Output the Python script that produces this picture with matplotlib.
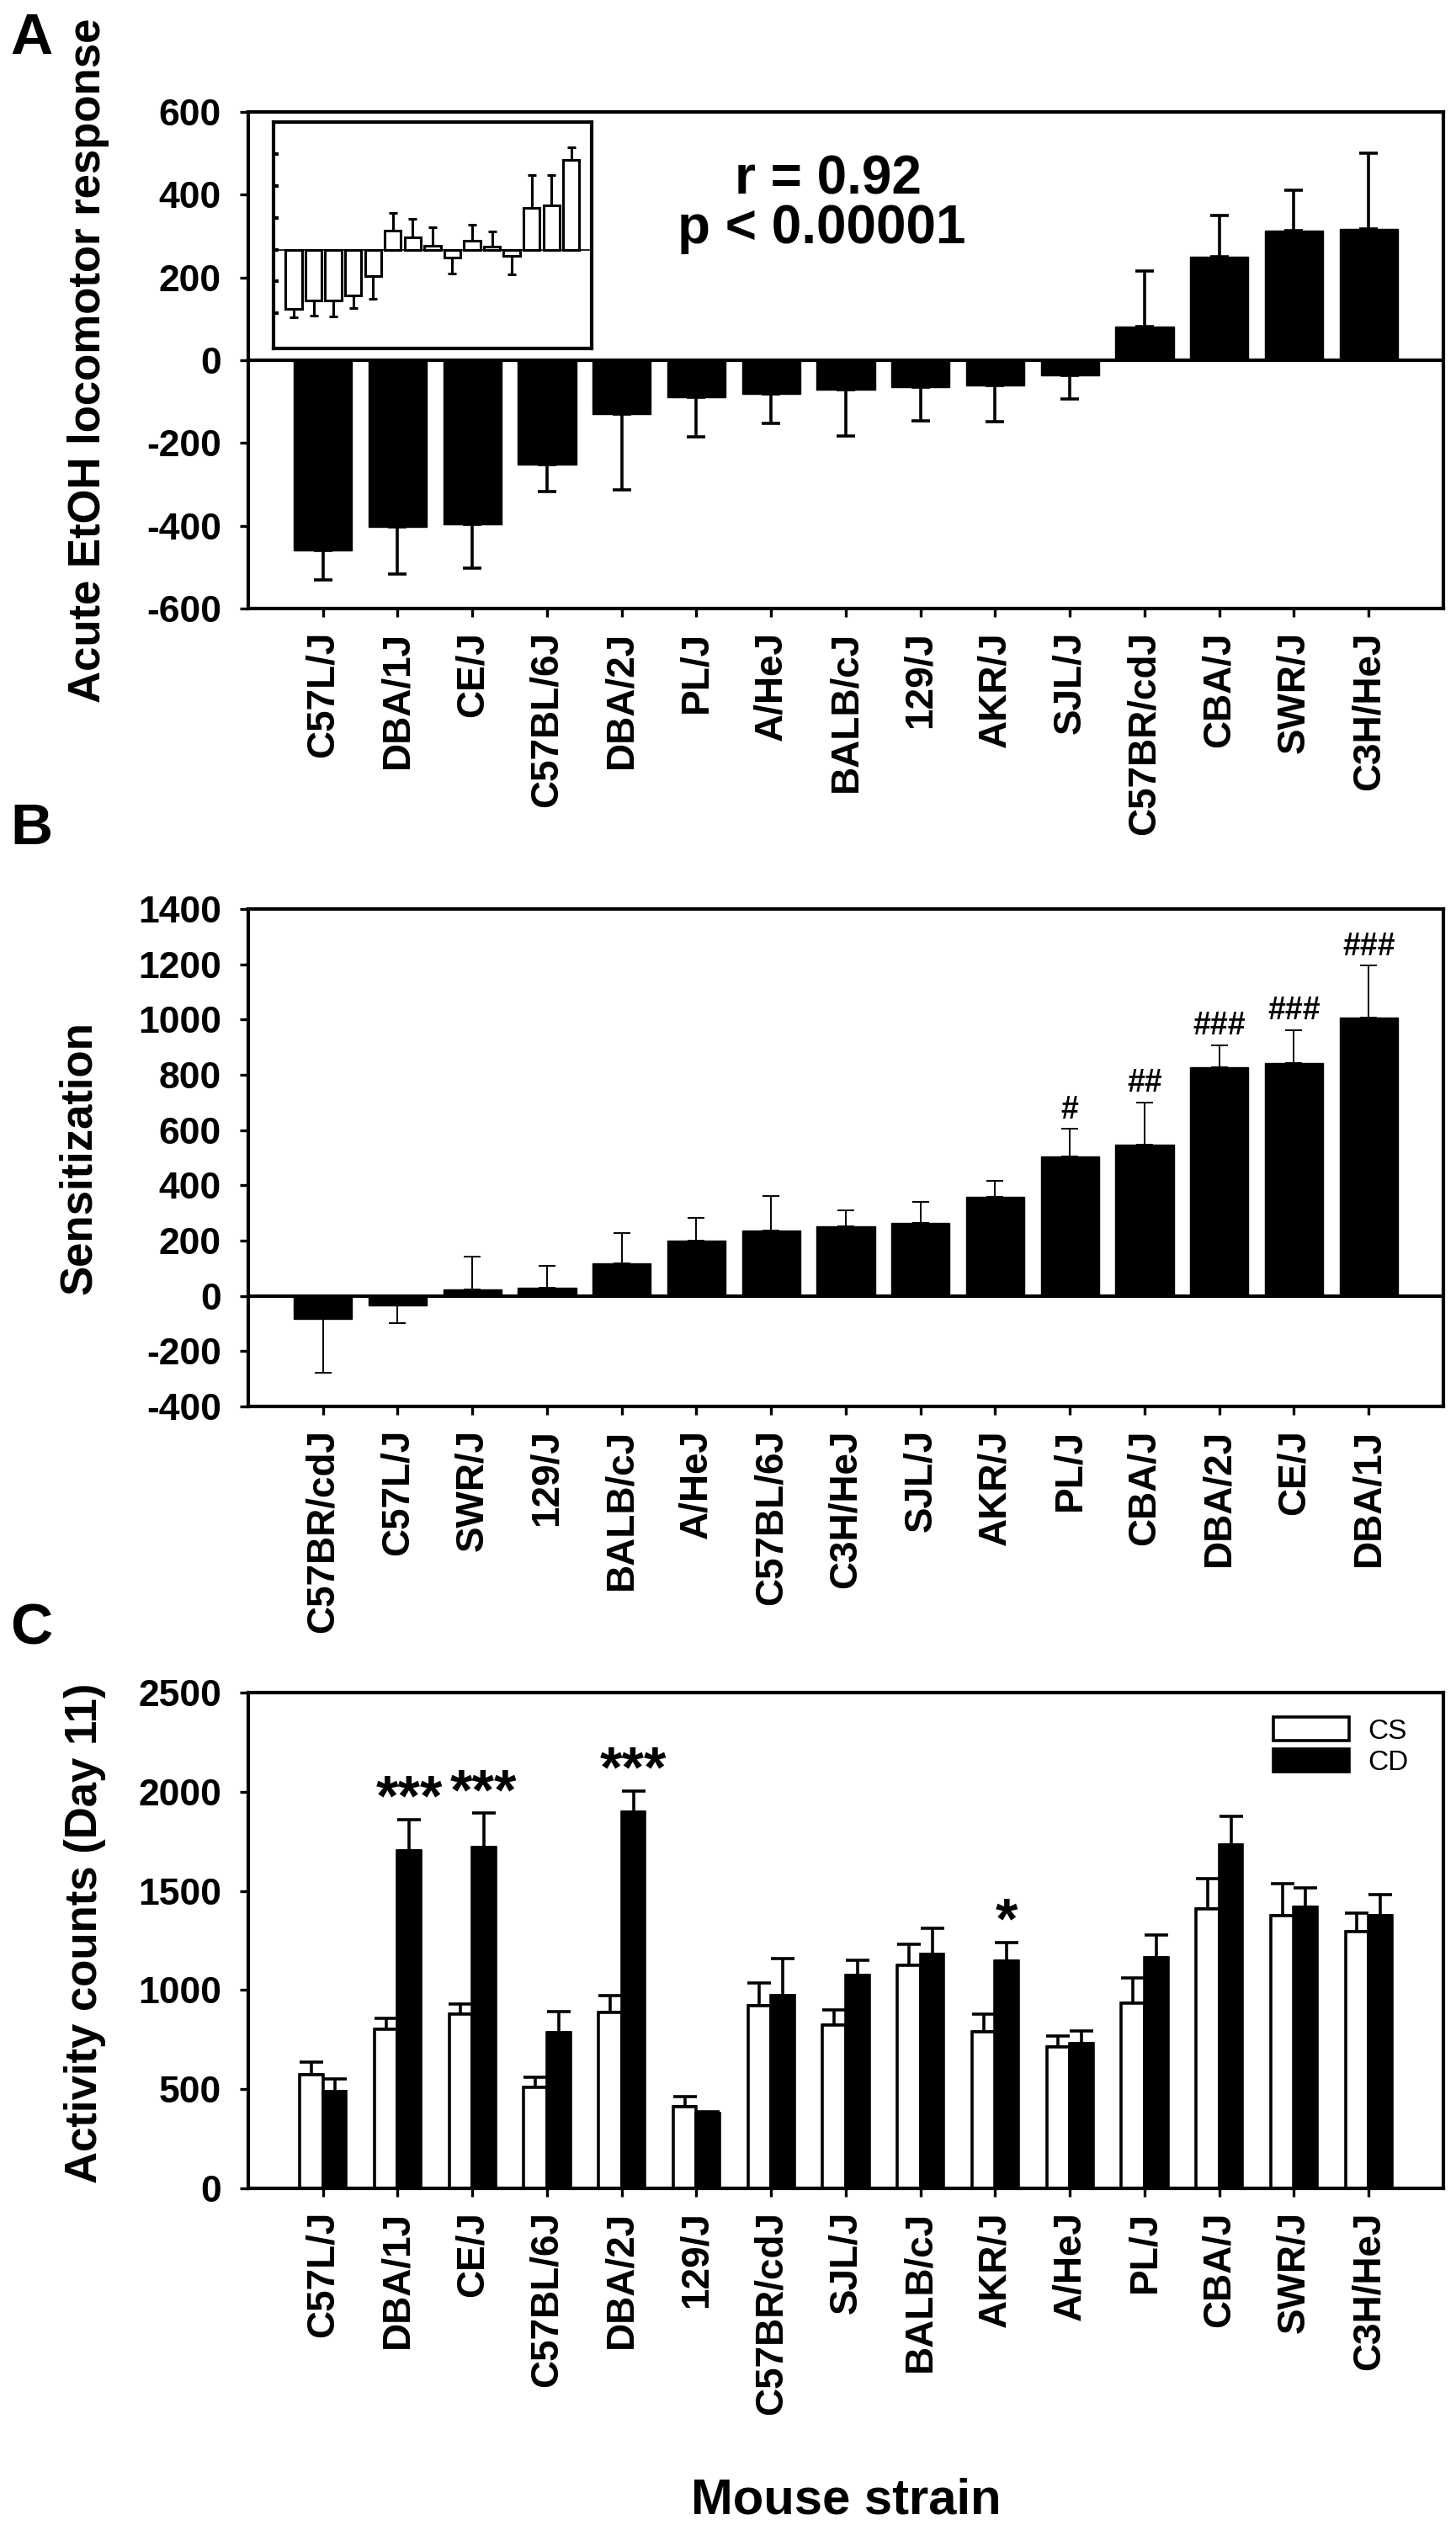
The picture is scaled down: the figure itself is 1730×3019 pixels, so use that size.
import matplotlib
matplotlib.use("Agg")
import matplotlib.pyplot as plt
import numpy as np

plt.rcParams['font.family'] = ['Liberation Sans', 'DejaVu Sans']
plt.rcParams['font.weight'] = 'bold'
plt.rcParams['axes.unicode_minus'] = False

# ---------------- data ----------------
strains_A = ['C57L/J', 'DBA/1J', 'CE/J', 'C57BL/6J', 'DBA/2J', 'PL/J', 'A/HeJ', 'BALB/cJ',
             '129/J', 'AKR/J', 'SJL/J', 'C57BR/cdJ', 'CBA/J', 'SWR/J', 'C3H/HeJ']
acute_mean = [-460, -402, -396, -253, -130, -89, -81, -71, -65, -61, -36, 82, 251, 314, 317]
acute_err = [70, 115, 107, 64, 183, 96, 71, 113, 82, 88, 57, 133, 98, 96, 184]

inset_mean = [-1.85, -1.60, -1.60, -1.45, -0.84, 0.60, 0.38, 0.11, -0.25, 0.28, 0.09, -0.20, 1.31, 1.39, 2.80]
inset_err = [0.28, 0.46, 0.50, 0.39, 0.70, 0.54, 0.58, 0.60, 0.51, 0.49, 0.47, 0.59, 1.03, 0.94, 0.40]
corr_lines = ['r = 0.92', 'p < 0.00001']

strains_B = ['C57BR/cdJ', 'C57L/J', 'SWR/J', '129/J', 'BALB/cJ', 'A/HeJ', 'C57BL/6J', 'C3H/HeJ',
             'SJL/J', 'AKR/J', 'PL/J', 'CBA/J', 'DBA/2J', 'CE/J', 'DBA/1J']
sens_mean = [-82, -33, 23, 29, 118, 200, 237, 251, 264, 358, 505, 548, 828, 844, 1007]
sens_err = [196, 65, 118, 79, 109, 82, 125, 60, 77, 57, 100, 153, 79, 118, 188]
sens_marks = ['', '', '', '', '', '', '', '', '', '', '#', '##', '###', '###', '###']

strains_C = ['C57L/J', 'DBA/1J', 'CE/J', 'C57BL/6J', 'DBA/2J', '129/J', 'C57BR/cdJ', 'SJL/J',
             'BALB/cJ', 'AKR/J', 'A/HeJ', 'PL/J', 'CBA/J', 'SWR/J', 'C3H/HeJ']
cs_mean = [572, 802, 879, 510, 887, 411, 922, 823, 1125, 791, 714, 934, 1409, 1375, 1296]
cs_err = [64, 54, 51, 49, 83, 51, 115, 75, 104, 86, 54, 125, 155, 163, 91]
cd_mean = [490, 1704, 1717, 786, 1899, 379, 970, 1074, 1181, 1145, 732, 1165, 1732, 1419, 1377]
cd_err = [61, 157, 176, 104, 106, 9, 188, 76, 131, 96, 62, 113, 145, 97, 104]
cd_marks = ['', '***', '***', '', '***', '', '', '', '', '*', '', '', '', '', '']

# ---------------- figure ----------------
W, H = 1731, 3019
fig = plt.figure(figsize=(W / 100, H / 100), dpi=100)

def ax_rect(left, top, right, bottom):
    return [left / W, 1 - bottom / H, (right - left) / W, (bottom - top) / H]

SP = 3.0          # spine width (pt)
TICK_FS = 32
XT_FS = 33
YL_FS = 38
L, R = 295, 1715

def style_axes(ax):
    for s in ax.spines.values():
        s.set_linewidth(SP)
    ax.tick_params(axis='y', direction='out', length=7, width=2.4, pad=16, labelsize=TICK_FS)
    ax.tick_params(axis='x', direction='out', length=7.5, width=2.4, pad=12, labelsize=XT_FS)

# ---------- Panel A ----------
axA = fig.add_axes(ax_rect(L, 133, R, 723))
xA = np.arange(len(strains_A))
am = np.array(acute_mean)
axA.bar(xA, acute_mean, width=0.78, color='black', edgecolor='black', zorder=2)
axA.errorbar(xA, acute_mean,
             yerr=[np.where(am < 0, acute_err, 0), np.where(am >= 0, acute_err, 0)],
             fmt='none', ecolor='black', elinewidth=2.6, capsize=8, capthick=2.6, zorder=1)
axA.axhline(0, color='black', lw=3.0, zorder=3)
axA.set_xlim(-1.0, 15.0)
axA.set_ylim(-600, 600)
axA.set_yticks(np.arange(-600, 601, 200))
axA.set_xticks(xA)
axA.set_xticklabels(strains_A, rotation=90, fontsize=XT_FS, fontweight='bold')
style_axes(axA)
axA.set_ylabel('Acute EtOH locomotor response', fontsize=YL_FS, fontweight='bold')
axA.yaxis.set_label_coords(-0.116, 0.5)
axA.text(0.485, 0.834, corr_lines[0], transform=axA.transAxes, ha='center', va='baseline',
         fontsize=46, fontweight='bold')
axA.text(0.48, 0.736, corr_lines[1], transform=axA.transAxes, ha='center', va='baseline',
         fontsize=46, fontweight='bold')

# inset
axI = fig.add_axes(ax_rect(325, 145, 703, 414))
xI = np.arange(len(inset_mean))
im = np.array(inset_mean)
axI.bar(xI, inset_mean, width=0.82, color='white', edgecolor='black', linewidth=2.2, zorder=2)
axI.errorbar(xI, inset_mean,
             yerr=[np.where(im < 0, inset_err, 0), np.where(im >= 0, inset_err, 0)],
             fmt='none', ecolor='black', elinewidth=2.2, capsize=3.5, capthick=2.2, zorder=1)
axI.axhline(0, color='black', lw=1.2, zorder=3)
axI.set_xlim(-1.02, 15.03)
axI.set_ylim(-3.1, 4.0)
axI.set_yticks([-2, -1, 0, 1, 2, 3])
axI.set_yticklabels([])
axI.set_xticks([])
axI.tick_params(axis='y', direction='in', length=4, width=3)
for s in axI.spines.values():
    s.set_linewidth(3.0)

# ---------- Panel B ----------
axB = fig.add_axes(ax_rect(L, 1080, R, 1671))
xB = np.arange(len(strains_B))
sm = np.array(sens_mean)
axB.bar(xB, sens_mean, width=0.78, color='black', edgecolor='black', zorder=2)
axB.errorbar(xB, sens_mean,
             yerr=[np.where(sm < 0, sens_err, 0), np.where(sm >= 0, sens_err, 0)],
             fmt='none', ecolor='black', elinewidth=1.4, capsize=7.5, capthick=1.4, zorder=1)
axB.axhline(0, color='black', lw=3.0, zorder=3)
for x, m, e, t in zip(xB, sens_mean, sens_err, sens_marks):
    if t:
        axB.text(x, m + e + 38, t, ha='center', va='baseline', fontsize=27, fontweight='bold')
axB.set_xlim(-1.0, 15.0)
axB.set_ylim(-400, 1400)
axB.set_yticks(np.arange(-400, 1401, 200))
axB.set_xticks(xB)
axB.set_xticklabels(strains_B, rotation=90, fontsize=XT_FS, fontweight='bold')
style_axes(axB)
axB.set_ylabel('Sensitization', fontsize=YL_FS, fontweight='bold')
axB.yaxis.set_label_coords(-0.124, 0.5)

# ---------- Panel C ----------
axC = fig.add_axes(ax_rect(L, 2011, R, 2600))
xC = np.arange(len(strains_C))
bw = 0.31
b1 = axC.bar(xC - bw / 2, cs_mean, width=bw, color='white', edgecolor='black', linewidth=2.6,
             label='CS', zorder=2)
b2 = axC.bar(xC + bw / 2, cd_mean, width=bw, color='black', edgecolor='black', linewidth=2.6,
             label='CD', zorder=2)
axC.errorbar(xC - bw / 2, cs_mean, yerr=[np.zeros(len(cs_err)), cs_err], fmt='none',
             ecolor='black', elinewidth=2.6, capsize=10, capthick=2.6, zorder=1)
axC.errorbar(xC + bw / 2, cd_mean, yerr=[np.zeros(len(cd_err)), cd_err], fmt='none',
             ecolor='black', elinewidth=2.6, capsize=10, capthick=2.6, zorder=1)
for x, m, e, t in zip(xC, cd_mean, cd_err, cd_marks):
    if t:
        axC.text(x + bw / 2, m + e + 20, t, ha='center', va='baseline', fontsize=49,
                 fontweight='bold')
axC.set_xlim(-1.0, 15.0)
axC.set_ylim(0, 2500)
axC.set_yticks(np.arange(0, 2501, 500))
axC.set_xticks(xC)
axC.set_xticklabels(strains_C, rotation=90, fontsize=XT_FS, fontweight='bold')
style_axes(axC)
axC.set_ylabel('Activity counts (Day 11)', fontsize=YL_FS, fontweight='bold')
axC.yaxis.set_label_coords(-0.119, 0.515)
axC.set_xlabel('Mouse strain', fontsize=43, fontweight='bold')
axC.xaxis.set_label_coords(0.5, -0.63)
axC.xaxis.label.set_va('center')
leg = axC.legend(handles=[b1, b2], loc='upper left', bbox_to_anchor=(0.8577, 0.95),
                 frameon=False, prop={'size': 24, 'weight': 'normal'},
                 handlelength=2.7, handleheight=0.9, labelspacing=0.15, handletextpad=0.66,
                 borderpad=0.0, borderaxespad=0.0)

# panel letters
for letter, ytop in [('A', 14), ('B', 953), ('C', 1903)]:
    fig.text(12 / W, 1 - ytop / H, letter, fontsize=50, fontweight='bold', ha='left', va='top')

fig.savefig('out.png', dpi=100)
